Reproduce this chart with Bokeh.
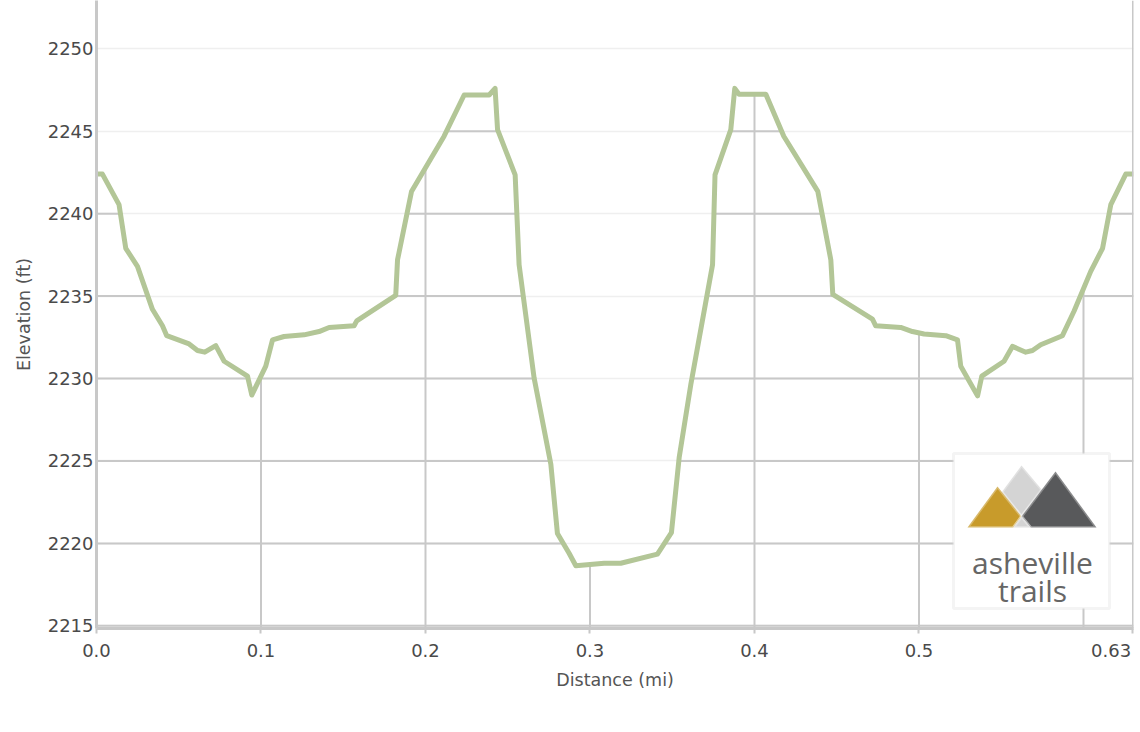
from bokeh.plotting import figure
from bokeh.models import (Range1d, FixedTicker, Label, Span, BoxAnnotation,
                          PolyAnnotation)
from bokeh.embed import file_html
from bokeh.resources import INLINE

# ---- data ----
distance_mi = [0.0, 0.0036, 0.0137, 0.0178, 0.0249, 0.0340, 0.0401, 0.0427,
               0.0563, 0.0614, 0.0658, 0.0725, 0.0776, 0.0918, 0.0944, 0.1029,
               0.1070, 0.1140, 0.1262, 0.1353, 0.1414, 0.1566, 0.1582, 0.1819,
               0.1830, 0.1915, 0.2113, 0.2235, 0.2387, 0.2423, 0.2438, 0.2545,
               0.2569, 0.2660, 0.2762, 0.2802, 0.2873, 0.2914, 0.3086, 0.3187,
               0.3410, 0.3495, 0.3542, 0.3613, 0.3745, 0.3760, 0.3856, 0.3880,
               0.3906, 0.4069, 0.4178, 0.4385, 0.4464, 0.4476, 0.4717, 0.4737,
               0.4889, 0.4960, 0.5031, 0.5163, 0.5234, 0.5254, 0.5356, 0.5382,
               0.5517, 0.5568, 0.5649, 0.5690, 0.5740, 0.5872, 0.5943, 0.6044,
               0.6116, 0.6166, 0.6257, 0.6304]
elevation_ft = [2242.4, 2242.4, 2240.55, 2237.9, 2236.8, 2234.2, 2233.2, 2232.6,
                2232.1, 2231.7, 2231.6, 2232.0, 2231.05, 2230.15, 2229.0, 2230.75,
                2232.35, 2232.55, 2232.65, 2232.85, 2233.1, 2233.2, 2233.5, 2235.05,
                2237.2, 2241.35, 2244.7, 2247.2, 2247.2, 2247.6, 2245.1, 2242.35,
                2236.9, 2230.05, 2224.8, 2220.6, 2219.4, 2218.65, 2218.8, 2218.8,
                2219.35, 2220.65, 2225.2, 2229.65, 2236.9, 2242.35, 2245.1, 2247.6,
                2247.25, 2247.25, 2244.7, 2241.35, 2237.2, 2235.1, 2233.6, 2233.2,
                2233.1, 2232.85, 2232.7, 2232.6, 2232.35, 2230.75, 2228.95, 2230.15,
                2231.05, 2231.95, 2231.6, 2231.7, 2232.05, 2232.6, 2234.1, 2236.5,
                2237.9, 2240.55, 2242.4, 2242.4]

x_ticks = [0.0, 0.1, 0.2, 0.3, 0.4, 0.5, 0.63]
x_tick_labels = ["0.0", "0.1", "0.2", "0.3", "0.4", "0.5", "0.63"]
x_grid_ticks = [0.1, 0.2, 0.3, 0.4, 0.5, 0.6]
y_ticks = [2215, 2220, 2225, 2230, 2235, 2240, 2245, 2250]

X_START, X_END = 0.0, 0.6304
Y_START, Y_END = 2214.84, 2252.93

LINE_COLOR = "#b3c697"
GRID_DARK = "#c8c8c8"
GRID_LIGHT = "#efefef"
TEXT_COLOR = "#4a4a4a"
FONT = "DejaVu Sans"

p = figure(width=1140, height=720, output_backend="svg", toolbar_location=None,
           x_range=Range1d(X_START, X_END), y_range=Range1d(Y_START, Y_END),
           min_border_left=96, min_border_right=7, min_border_top=0,
           min_border_bottom=92)
p.outline_line_color = None
p.background_fill_color = "white"

# light horizontal grid everywhere
p.xgrid.visible = False
p.ygrid.ticker = FixedTicker(ticks=y_ticks)
p.ygrid.grid_line_color = GRID_LIGHT
p.ygrid.grid_line_width = 1.5


# darker grid only beneath the profile
def intervals_above(xs, ys, level):
    out = []
    start = xs[0] if ys[0] >= level else None
    for i in range(1, len(xs)):
        y0, y1 = ys[i - 1], ys[i]
        if (y0 >= level) != (y1 >= level):
            xc = xs[i - 1] + (level - y0) * (xs[i] - xs[i - 1]) / (y1 - y0)
            if y1 >= level:
                start = xc
            else:
                out.append((start, xc))
    if ys[-1] >= level:
        out.append((start, xs[-1]))
    return out


def interp(xq, xs, ys):
    for i in range(1, len(xs)):
        if xs[i] >= xq:
            t = (xq - xs[i - 1]) / (xs[i] - xs[i - 1])
            return ys[i - 1] + t * (ys[i] - ys[i - 1])
    return ys[-1]


hx0, hx1, hy = [], [], []
for lv in y_ticks:
    for a, b in intervals_above(distance_mi, elevation_ft, lv):
        hx0.append(a)
        hx1.append(b)
        hy.append(lv)
p.segment(x0=hx0, y0=hy, x1=hx1, y1=hy, line_color=GRID_DARK, line_width=2)

vx = x_grid_ticks
vtop = [interp(x, distance_mi, elevation_ft) for x in vx]
p.segment(x0=vx, y0=[Y_START] * len(vx), x1=vx, y1=vtop,
          line_color=GRID_DARK, line_width=2)

# profile line
p.line(distance_mi, elevation_ft, line_color=LINE_COLOR, line_width=5,
       line_join="round")

# right border
p.add_layout(Span(location=X_END, dimension="height", line_color=GRID_DARK,
                  line_width=3))

# axes
xa = p.xaxis[0]
xa.ticker = FixedTicker(ticks=x_ticks)
overrides = {t: l for t, l in zip(x_ticks, x_tick_labels)}
# last label sits flush with the right edge: pad it so it is drawn left of its tick
overrides[0.63] = x_tick_labels[-1] + "\u00a0\u2009"
xa.major_label_overrides = overrides
xa.axis_label = "Distance (mi)"
ya = p.yaxis[0]
ya.ticker = FixedTicker(ticks=y_ticks)
ya.axis_label = "Elevation (ft)"
for ax in (xa, ya):
    ax.axis_line_color = GRID_DARK
    ax.axis_line_width = 3
    ax.major_tick_line_color = GRID_DARK
    ax.major_tick_line_width = 2
    ax.minor_tick_line_color = None
    ax.major_tick_in = 0
    ax.major_label_text_font = FONT
    ax.major_label_text_font_size = "18px"
    ax.major_label_text_color = TEXT_COLOR
    ax.axis_label_text_font = FONT
    ax.axis_label_text_font_size = "17.5px"
    ax.axis_label_text_font_style = "normal"
    ax.axis_label_text_color = "#555555"
xa.major_tick_out = 5
xa.major_label_standoff = 6
xa.axis_label_standoff = 6
ya.major_tick_out = 0
ya.major_label_standoff = 3
ya.axis_label_standoff = 11

# logo box (frame-relative screen units)
p.add_layout(BoxAnnotation(left=857, right=1013, bottom=20, top=175,
                           left_units="screen", right_units="screen",
                           bottom_units="screen", top_units="screen",
                           fill_color="white", fill_alpha=1.0,
                           line_color="#dcdcdc", line_width=3, level="overlay"))
logo_shapes = [
    ([905, 925, 946, 925], [136, 163, 138, 112], "#d4d4d4"),
    ([871, 901, 925, 917], [101, 142, 112, 101], "#c89b2b"),
    ([925, 959, 1000, 934], [112, 157, 101, 101], "#58595b"),
    ([917, 925, 934], [101, 112, 101], "#d4d4d4"),
]
for xs, ys, col in logo_shapes:
    p.add_layout(PolyAnnotation(xs=xs, ys=ys, xs_units="screen",
                                ys_units="screen", fill_color=col,
                                fill_alpha=1.0, line_color="white",
                                line_width=3, level="overlay"))
p.add_layout(Label(x=936, y=66, x_units="screen", y_units="screen",
                   text="asheville", text_align="center",
                   text_baseline="alphabetic", text_font="Open Sans",
                   text_font_size="30px", text_color="#666666",
                   level="overlay"))
p.add_layout(Label(x=936, y=38, x_units="screen", y_units="screen",
                   text="trails", text_align="center",
                   text_baseline="alphabetic", text_font="Open Sans",
                   text_font_size="30px", text_color="#666666",
                   level="overlay"))

open("out.html", "w").write(file_html(p, INLINE))
